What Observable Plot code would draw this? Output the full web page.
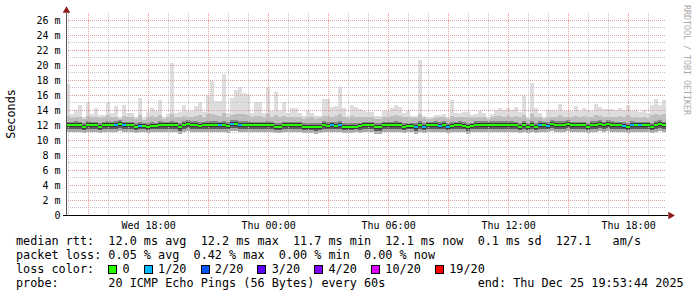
<!DOCTYPE html>
<html><head><meta charset="utf-8">
<script src="https://cdn.jsdelivr.net/npm/d3@7"></script>
<script src="https://cdn.jsdelivr.net/npm/@observablehq/plot@0.6"></script>
<style>
html,body{margin:0;padding:0;background:#fff;}
#wrap{position:relative;width:697px;height:297px;overflow:hidden;background:#fff;}
#legend{position:absolute;left:0;top:232px;}
</style></head><body><div id="wrap"></div>
<script>
const startTime = new Date(Date.UTC(2025, 11, 24, 13, 53, 44));
const endTime = new Date(Date.UTC(2025, 11, 25, 19, 53, 44));
const stepMinutes = 12;

// per 12-minute column, milliseconds
const maxMs = [
 17.4,13.4,14.0,14.6,13.0,15.0,13.4,14.3,13.3,13.3,
 15.1,13.6,14.5,13.0,14.6,13.6,13.6,13.0,15.6,12.9,
 13.7,14.3,13.8,15.3,13.0,13.4,20.3,13.6,13.7,14.6,
 13.9,13.8,14.5,15.0,13.7,16.0,17.9,15.2,15.2,18.8,
 13.6,15.6,16.7,17.1,16.3,16.1,13.6,15.1,15.1,13.6,
 17.0,13.9,16.4,13.9,15.1,13.6,14.2,14.2,13.6,13.2,
 13.9,13.6,13.2,13.2,15.5,15.5,14.4,14.5,17.1,14.2,
 13.2,14.6,14.4,14.1,13.8,13.7,13.7,13.2,13.2,13.8,
 13.8,14.2,14.6,14.4,13.6,13.9,13.2,13.2,20.7,13.2,
 13.0,13.0,13.3,13.3,13.5,13.0,15.3,13.6,13.6,13.7,
 13.7,13.3,13.5,13.8,13.6,13.0,13.5,14.0,14.3,14.0,
 14.3,14.0,14.4,13.7,15.9,13.0,17.6,14.3,13.6,13.0,
 14.0,14.0,13.8,14.8,13.8,13.8,13.9,14.5,13.8,14.3,
 14.0,13.9,14.8,14.4,14.1,14.1,14.1,14.0,14.3,14.0,
 14.6,13.8,13.8,13.7,14.0,13.6,14.6,15.5,14.6,15.3
];
const hiMs = [
 13.2,12.9,13.1,13.0,12.8,13.2,13.0,13.1,12.9,13.0,
 13.3,13.0,13.1,12.8,13.2,13.0,13.1,12.8,13.3,12.7,
 13.0,13.2,13.0,13.3,12.8,13.0,13.5,13.1,13.0,13.2,
 13.1,13.0,13.2,13.3,13.0,13.4,13.5,13.3,13.2,13.6,
 13.0,13.3,13.4,13.5,13.4,13.3,13.0,13.2,13.2,13.0,
 13.4,13.1,13.3,13.0,13.2,13.0,13.1,13.1,13.0,12.8,
 13.0,13.0,12.8,12.9,13.2,13.2,13.1,13.2,13.4,13.1,
 12.9,13.2,13.1,13.1,13.0,13.0,13.1,12.8,12.8,13.0,
 13.0,13.2,13.3,13.2,13.0,13.1,12.9,12.9,13.4,12.9,
 12.8,12.8,12.9,13.0,13.0,12.8,13.2,13.0,13.0,13.1,
 13.0,12.9,13.0,13.1,13.0,12.8,13.0,13.2,13.2,13.1,
 13.2,13.1,13.2,13.0,13.3,12.8,13.5,13.1,13.0,12.8,
 13.1,13.1,13.0,13.3,13.0,13.1,13.1,13.2,13.0,13.2,
 13.1,13.0,13.3,13.2,13.1,13.1,13.1,13.0,13.2,13.1,
 13.3,13.0,13.0,12.9,13.1,12.9,13.3,13.5,13.3,13.4
];
const upMs = [
 12.4,12.4,12.5,12.4,12.3,12.5,12.4,12.4,12.3,12.4,
 12.5,12.4,12.5,12.6,12.4,12.4,12.4,12.3,12.4,12.3,
 12.3,12.4,12.3,12.5,12.4,12.4,12.5,12.4,12.2,12.5,
 12.6,12.5,12.5,12.4,12.4,12.5,12.5,12.5,12.4,12.5,
 12.4,12.6,12.6,12.5,12.5,12.5,12.4,12.4,12.4,12.4,
 12.5,12.4,12.3,12.3,12.4,12.4,12.4,12.4,12.4,12.3,
 12.3,12.3,12.3,12.3,12.5,12.4,12.4,12.4,12.5,12.3,
 12.3,12.3,12.3,12.3,12.4,12.4,12.4,12.2,12.2,12.4,
 12.4,12.4,12.5,12.4,12.3,12.3,12.3,12.3,12.5,12.3,
 12.4,12.4,12.5,12.4,12.5,12.3,12.4,12.4,12.5,12.4,
 12.2,12.3,12.5,12.5,12.5,12.5,12.5,12.5,12.5,12.5,
 12.5,12.5,12.4,12.3,12.5,12.3,12.5,12.3,12.5,12.4,
 12.4,12.6,12.5,12.5,12.5,12.6,12.4,12.4,12.4,12.4,
 12.3,12.5,12.5,12.6,12.4,12.6,12.5,12.4,12.4,12.4,
 12.3,12.5,12.4,12.4,12.4,12.4,12.3,12.5,12.6,12.4
];
const medMs = [
 12.0,12.0,12.0,12.0,11.85,12.0,12.0,12.0,11.85,12.0,
 12.0,12.0,12.05,12.15,12.0,12.0,12.0,11.8,11.9,11.9,
 11.8,11.9,11.9,12.05,12.0,12.0,12.0,12.0,11.75,12.05,
 12.2,12.05,12.05,11.9,12.0,12.0,12.05,12.0,12.0,12.0,
 11.9,12.2,12.15,12.05,12.05,12.05,12.0,12.0,12.0,12.0,
 12.0,12.0,11.8,11.85,12.0,12.0,12.0,12.0,12.0,11.85,
 11.85,11.8,11.8,11.8,12.05,11.95,12.0,11.95,12.05,11.85,
 11.85,11.85,11.85,11.9,12.0,12.0,12.0,11.75,11.75,12.0,
 12.0,12.0,12.0,12.0,11.8,11.9,11.9,11.75,12.0,11.85,
 12.0,12.0,12.05,11.95,12.05,11.85,11.9,12.0,12.05,11.9,
 11.75,11.9,12.05,12.05,12.05,12.05,12.05,12.05,12.05,12.05,
 12.05,12.05,12.0,11.8,12.0,11.85,12.0,11.85,12.05,12.0,
 11.95,12.2,12.05,12.05,12.05,12.15,12.0,12.0,12.0,12.0,
 11.85,12.05,12.05,12.2,12.0,12.2,12.05,12.0,12.0,11.9,
 11.85,12.1,12.0,12.0,12.0,12.0,11.85,12.05,12.15,12.0
];
const loMs = [
 11.5,11.5,11.4,11.5,11.3,11.5,11.4,11.5,11.3,11.5,
 11.5,11.4,11.5,11.6,11.5,11.4,11.5,11.3,11.4,11.4,
 11.3,11.4,11.4,11.5,11.5,11.4,11.5,11.5,11.2,11.5,
 11.6,11.5,11.5,11.4,11.5,11.4,11.5,11.5,11.5,11.4,
 11.4,11.6,11.6,11.5,11.5,11.5,11.5,11.4,11.5,11.5,
 11.5,11.4,11.3,11.3,11.5,11.4,11.5,11.5,11.4,11.3,
 11.3,11.3,11.2,11.3,11.5,11.4,11.5,11.4,11.5,11.3,
 11.3,11.3,11.4,11.3,11.4,11.5,11.5,11.2,11.2,11.5,
 11.5,11.5,11.5,11.5,11.3,11.4,11.4,11.2,11.5,11.3,
 11.5,11.5,11.5,11.4,11.5,11.3,11.4,11.5,11.5,11.4,
 11.2,11.4,11.5,11.5,11.5,11.5,11.5,11.5,11.5,11.5,
 11.5,11.5,11.5,11.3,11.5,11.3,11.5,11.3,11.5,11.4,
 11.4,11.6,11.5,11.5,11.5,11.6,11.5,11.5,11.5,11.5,
 11.3,11.5,11.5,11.6,11.5,11.6,11.5,11.5,11.5,11.4,
 11.3,11.5,11.5,11.5,11.5,11.5,11.3,11.5,11.6,11.5
];
const minMs = [
 11.0,11.1,11.0,11.1,10.9,11.1,11.0,11.1,10.9,11.0,
 11.1,11.0,11.1,11.2,11.1,11.0,11.0,10.9,11.0,11.0,
 10.9,11.0,11.0,11.1,11.1,11.0,11.1,11.1,10.8,11.1,
 11.2,11.1,11.1,11.0,11.1,11.0,11.1,11.0,11.1,11.0,
 10.9,11.2,11.2,11.1,11.1,11.1,11.0,11.0,11.1,11.1,
 11.1,11.0,10.9,10.9,11.1,11.0,11.1,11.1,11.0,10.9,
 10.9,10.9,10.8,10.9,11.1,11.0,11.1,11.0,11.1,10.9,
 10.9,10.9,11.0,10.9,11.0,11.1,11.1,10.8,10.8,11.1,
 11.1,11.1,11.1,11.1,10.9,11.0,11.0,10.8,11.1,10.9,
 11.1,11.1,11.1,11.0,11.1,10.9,11.0,11.1,11.1,11.0,
 10.8,11.0,11.1,11.1,11.1,11.1,11.1,11.1,11.1,11.1,
 11.1,11.1,11.1,10.9,11.1,10.9,11.1,10.9,11.1,11.0,
 11.0,11.2,11.1,11.1,11.1,11.2,11.1,11.1,11.1,11.1,
 10.9,11.1,11.1,11.2,11.1,11.2,11.1,11.1,11.1,11.0,
 10.9,11.1,11.1,11.1,11.1,11.1,10.9,11.1,11.2,11.1
];
// columns where 1 of 20 pings was lost
const lossOneCols = [12,14,18,38,41,43,66,68,87,89,93,95,118,120,139,141,143];

const lossLevels = ["0","1/20","2/20","3/20","4/20","10/20","19/20"];
const lossColors = ["#26ff00","#00b8ff","#0059ff","#5e00ff","#7e00ff","#dd00ff","#ff0000"];

const yMax = 26.93;
const yTicks = [0,2,4,6,8,10,12,14,16,18,20,22,24,26];
const yMinor = [1,3,5,7,9,11,13,15,17,19,21,23,25];
const xTicks = ["2025-12-24T18:00:00Z","2025-12-25T00:00:00Z","2025-12-25T06:00:00Z","2025-12-25T12:00:00Z","2025-12-25T18:00:00Z"].map(s => new Date(s));

const legendRow1 = "median rtt:  12.0 ms avg  12.2 ms max  11.7 ms min  12.1 ms now  0.1 ms sd  127.1   am/s";
const legendRow2 = "packet loss: 0.05 % avg  0.42 % max  0.00 % min  0.00 % now";
const legendRow3Label = "loss color:";
const legendRow4 = "probe:       20 ICMP Echo Pings (56 Bytes) every 60s             end: Thu Dec 25 19:53:44 2025";

const rows = maxMs.map((mx, i) => {
  const t0 = new Date(+startTime + i * stepMinutes * 60000);
  return {
    t0, t1: new Date(+t0 + stepMinutes * 60000),
    max: mx, hi: hiMs[i], up: upMs[i], med: medMs[i], lo: loMs[i], min: minMs[i],
    loss: lossOneCols.includes(i) ? "1/20" : "0"
  };
});

const hours = d3.utcHour.range(d3.utcHour.ceil(startTime), endTime);
const majorHours = hours.filter(h => h.getUTCHours() % 3 === 0);
const minorHours = hours.filter(h => h.getUTCHours() % 3 !== 0);

const bands = [
  ["hi", "max", "#dddddd"],
  ["up", "hi", "#bdbdbd"],
  ["med", "up", "#868686"],
  ["lo", "med", "#5c5c5c"],
  ["min", "lo", "#a9a9a9"]
];

const chart = Plot.plot({
  width: 697, height: 232,
  marginLeft: 66, marginRight: 31, marginTop: 13, marginBottom: 17,
  style: {fontFamily: "'DejaVu Sans Mono', monospace", fontSize: "10px", color: "#000", background: "#fff"},
  x: {type: "utc", domain: [startTime, endTime]},
  y: {domain: [0, yMax]},
  color: {domain: lossLevels, range: lossColors},
  marks: [
    ...bands.map(([a, b, c]) => Plot.rect(rows, {x1: "t0", x2: "t1", y1: a, y2: b, fill: c, shapeRendering: "crispEdges"})),
    Plot.ruleY(yMinor, {stroke: "#c6c6c6", strokeDasharray: "1,1", shapeRendering: "crispEdges"}),
    Plot.ruleX(minorHours, {stroke: "#c6c6c6", strokeDasharray: "1,1", shapeRendering: "crispEdges"}),
    Plot.ruleY(yTicks.filter(v => v > 0), {stroke: "#e69a9a", strokeDasharray: "1,1", shapeRendering: "crispEdges"}),
    Plot.ruleX(majorHours, {stroke: "#e69a9a", strokeDasharray: "1,1", shapeRendering: "crispEdges"}),
    Plot.ruleY(rows, {x1: "t0", x2: "t1", y: "med", stroke: "#383838", strokeWidth: 4, shapeRendering: "crispEdges"}),
    Plot.ruleY(rows, {x1: "t0", x2: "t1", y: "med", stroke: "loss", strokeWidth: 2, shapeRendering: "crispEdges"}),
    Plot.ruleX([startTime], {stroke: "#555", shapeRendering: "crispEdges"}),
    Plot.ruleY([0], {stroke: "#000", insetLeft: -3, insetRight: -2, shapeRendering: "crispEdges"}),
    Plot.dot([0], {x: () => endTime, y: () => 0, symbol: "triangle", r: 2.8, fill: "#8b1a1a", rotate: 90, dx: 4}),
    Plot.dot([0], {x: () => startTime, y: () => yMax, symbol: "triangle", r: 2.8, fill: "#8b1a1a", dy: -3}),
    Plot.axisY({ticks: yTicks, tickFormat: d => d === 0 ? "0" : `${d} m`, tickSize: 0, tickPadding: 6, label: null}),
    Plot.axisX({ticks: xTicks, tickFormat: d3.utcFormat("%a %H:%M"), tickSize: 0, tickPadding: 6, label: null})
  ]
});
const wrap = document.getElementById("wrap");
wrap.appendChild(chart);

const svg = d3.select(chart);
svg.append("text")
  .attr("transform", "translate(15,114) rotate(-90)")
  .attr("text-anchor", "middle")
  .style("font-family", "'DejaVu Sans Mono', monospace")
  .style("font-size", "11.8px")
  .attr("fill", "#000")
  .text("Seconds");
svg.append("text")
  .attr("transform", "translate(684,5) rotate(90)")
  .attr("text-anchor", "start")
  .style("font-family", "'DejaVu Sans Mono', monospace")
  .style("font-size", "8.3px")
  .attr("fill", "#aaaaaa")
  .text("RRDTOOL / TOBI OETIKER");

// legend below the chart
const leg = d3.select(wrap).append("svg")
  .attr("id", "legend").attr("width", 697).attr("height", 65);
const fontCss = "'DejaVu Sans Mono', monospace";
function row(str, baseline) {
  return leg.append("text").attr("x", 16).attr("y", baseline)
    .attr("xml:space", "preserve").style("white-space", "pre")
    .style("font-family", fontCss).style("font-size", "11.8px").attr("fill", "#000")
    .text(str);
}
const r1 = row(legendRow1, 12.5);
row(legendRow2, 26.5);
let row3 = legendRow3Label + "  ";
const boxIdx = [];
lossLevels.forEach((l, j) => {
  if (j > 0) row3 += "  ";
  boxIdx.push(row3.length);
  row3 += "  " + l;
});
row(row3, 40.5);
row(legendRow4, 54.5);
const cw = r1.node().getComputedTextLength() / legendRow1.length;
boxIdx.forEach((k, j) => {
  leg.append("rect")
    .attr("x", Math.round(16 + k * cw) + 0.5).attr("y", 33.5)
    .attr("width", 8).attr("height", 8)
    .attr("fill", lossColors[j]).attr("stroke", "#000").attr("stroke-width", 1);
});
</script></body></html>
